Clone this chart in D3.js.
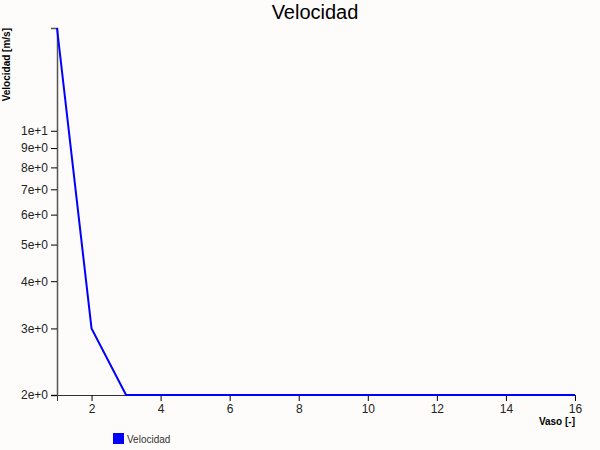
<!DOCTYPE html>
<html>
<head>
<meta charset="utf-8">
<script src="https://cdn.jsdelivr.net/npm/d3@7"></script>
<style>
  body { margin: 0; background: #fdfcfa; }
  text { font-family: "Liberation Sans", Arial, sans-serif; }
</style>
</head>
<body>
<div class="vis"></div>
<script>
// Datos
const vasos = [1, 2, 3, 4, 5, 6, 7, 8, 9, 10, 11, 12, 13, 14, 15, 16];
const velocidad = [18.7, 3, 2, 2, 2, 2, 2, 2, 2, 2, 2, 2, 2, 2, 2, 2];
const serieNombre = "Velocidad";

const margin = { top: 28, right: 25, bottom: 55, left: 57 };
const width = 600 - margin.left - margin.right;
const height = 450 - margin.top - margin.bottom;

const root = d3.select(".vis")
  .append("svg")
  .attr("width", 600)
  .attr("height", 450)
  .style("background", "#fdfcfa");

const svg = root.append("g")
  .attr("transform", "translate(" + margin.left + "," + margin.top + ")");

const xScale = d3.scaleLinear().domain(d3.extent(vasos)).range([0, width]);
const yScale = d3.scaleLog().domain(d3.extent(velocidad)).range([height, 0]);

const points = vasos.map((v, i) => ({ x: v, y: velocidad[i] }));

// Titulo
root.append("text")
  .attr("x", 315)
  .attr("y", 19)
  .attr("text-anchor", "middle")
  .style("font-size", "20px")
  .text("Velocidad");

// Ejes
const xAxis = svg.append("g")
  .attr("transform", "translate(0," + height + ")")
  .call(d3.axisBottom(xScale).ticks(10));

const yAxis = svg.append("g")
  .call(d3.axisLeft(yScale).ticks(10, ".0e"));

[xAxis, yAxis].forEach(a => {
  a.selectAll("text").style("font-size", "12px").style("font-family", "Liberation Sans, Arial, sans-serif").attr("fill", "#222");
  a.select(".domain").attr("stroke", "#333");
});
yAxis.select(".domain").attr("stroke", "#555").attr("stroke-width", 1.5);

// Etiquetas de ejes
svg.append("text")
  .attr("transform", "rotate(-90)")
  .attr("x", 0)
  .attr("y", -47)
  .attr("text-anchor", "end")
  .style("font-size", "10px")
  .style("font-weight", "bold")
  .text("Velocidad [m/s]");

svg.append("text")
  .attr("x", width)
  .attr("y", height + 30)
  .attr("text-anchor", "end")
  .style("font-size", "10px")
  .style("font-weight", "bold")
  .text("Vaso [-]");

// Linea
const line = d3.line()
  .x(d => xScale(d.x))
  .y(d => yScale(d.y));

svg.append("path")
  .datum(points)
  .attr("fill", "none")
  .attr("stroke", "#0000ff")
  .attr("stroke-width", 2)
  .attr("d", line);

// Leyenda
const legend = root.append("g").attr("transform", "translate(113,433)");
legend.append("rect")
  .attr("width", 11)
  .attr("height", 11)
  .attr("fill", "#0000ff");
legend.append("text")
  .attr("x", 14)
  .attr("y", 10)
  .style("font-size", "10px")
  .attr("fill", "#333")
  .text(serieNombre);
</script>
</body>
</html>
